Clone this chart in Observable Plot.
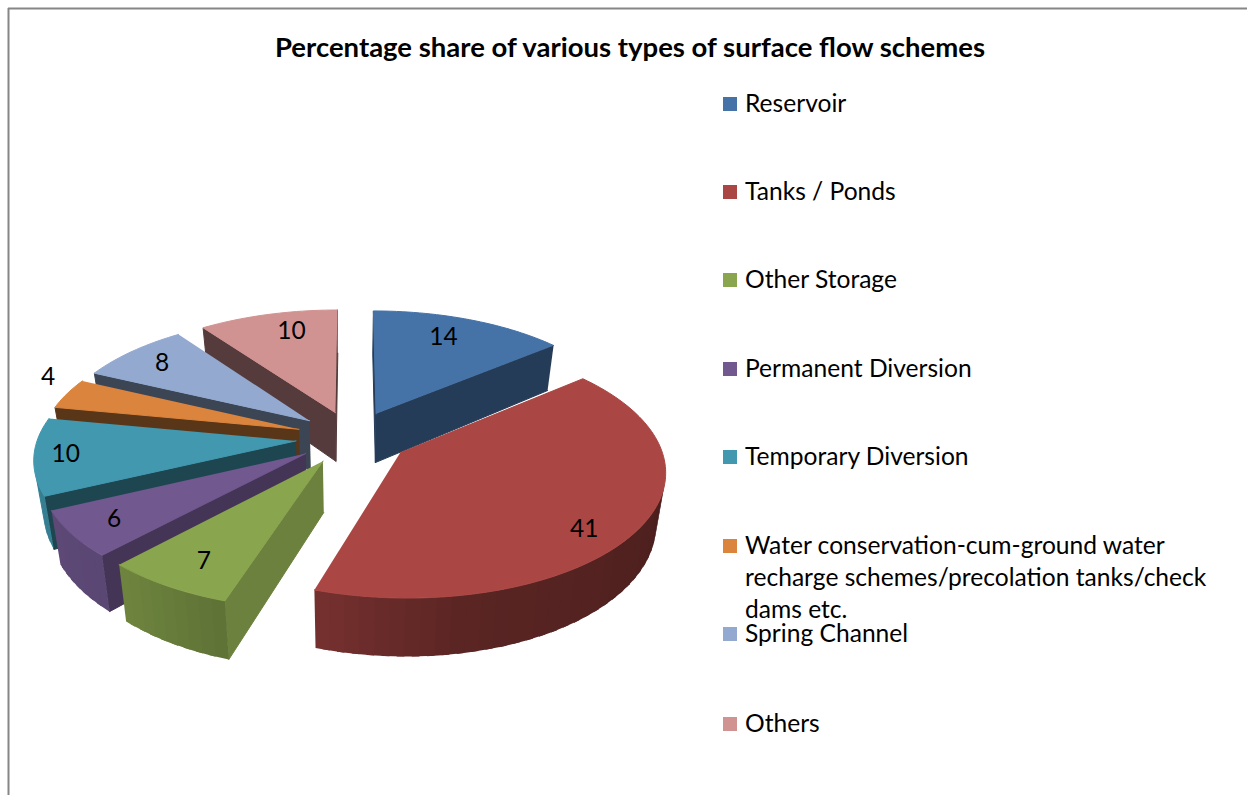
<!DOCTYPE html>
<html><head><meta charset="utf-8">
<script src="https://cdn.jsdelivr.net/npm/d3@7"></script>
<script src="https://cdn.jsdelivr.net/npm/@observablehq/plot@0.6"></script>
<style>
html,body{margin:0;padding:0;background:#fff;overflow:hidden}
#wrap{position:relative;width:1247px;height:795px;font-family:Lato,sans-serif;color:#000}
#title{position:absolute;left:0;top:29px;width:1260px;text-align:center;font-weight:700;font-size:27.5px;line-height:36px}
.leg{position:absolute;left:745px;width:476px;font-size:24.6px;line-height:32px}
.sw{position:absolute;left:-22px;top:10px;width:14px;height:14px}
svg{position:absolute;left:0;top:0}
</style></head><body><div id="wrap"><div id="title"></div></div>
<script>
const chartTitle = "Percentage share of various types of surface flow schemes";
const categories = ["Reservoir","Tanks / Ponds","Other Storage","Permanent Diversion","Temporary Diversion","Water conservation-cum-ground water recharge schemes/precolation tanks/check dams etc.","Spring Channel","Others"];
const shares = [14,41,7,6,10,4,8,10];
const colors = ["#4572a7","#aa4643","#89a54e","#71588f","#4198af","#db843d","#93a9cf","#d19392"];
const legendTops = [87,175,263,352,440,529,617,707];
const drawOrder = [0,7,6,5,4,3,2,1];

// view model of the tilted disc
const cx=352, cy=437, Rx=258, Ry=122, persp=.13, explode=.22, depth=50, taper=.97;
const outerShade = d3.scaleLinear([90,170,198,223,260,360],[.42,.53,.69,.8,.85,.85]).clamp(true);
const sideShade = d3.scaleLinear([50,198,223,245,281,360],[.53,.78,.6,.46,.41,.4]).clamp(true);
const labelR = [.78,.85,.81,.83,.88,1.15,.82,.8];
const labelF = [.45,.55,.45,.5,.5,.9,.5,.6];

const arcs = d3.pie().sort(null).value(d=>d).startAngle(0).endAngle(2*Math.PI)(shares);
const deg = r => r*180/Math.PI;
function project(i,a,r,drop){
  const m=(arcs[i].startAngle+arcs[i].endAngle)/2;
  const u=explode*Math.sin(m)+r*Math.sin(a), v=explode*Math.cos(m)+r*Math.cos(a);
  const s=1/(1+persp*v);
  let x=cx+Rx*u*s, y=cy-Ry*v*s;
  if(drop){ x=cx+(x-cx)*taper; y+=depth*s; }
  return [x,y];
}
const shade=(c,k)=>{const q=d3.rgb(c);return d3.rgb(q.r*k,q.g*k,q.b*k).formatHex();};
const area=p=>d3.sum(p,(q,i)=>{const n=p[(i+1)%p.length];return q[0]*n[1]-n[0]*q[1];});
const polys=[]; let id=0;
function add(pts,fill,wall,sw){
  if(wall && area(pts)>=0) return;
  id++; for(const q of pts) polys.push({id,x:q[0],y:q[1],fill,sw});
}
for(const i of drawOrder){
  const A=arcs[i], c=colors[i], a0=A.startAngle, a1=A.endAngle;
  add([project(i,a0,0,0),project(i,a0,1,0),project(i,a0,1,1),project(i,a0,0,1)],shade(c,sideShade(deg(a0))),true,1);
  add([project(i,a1,1,0),project(i,a1,0,0),project(i,a1,0,1),project(i,a1,1,1)],shade(c,sideShade(deg(a1))),true,1);
  const steps=Math.max(2,Math.ceil((a1-a0)/(Math.PI/60)));
  for(let k=0;k<steps;k++){
    const b0=a0+(a1-a0)*k/steps, b1=Math.min(a1,a0+(a1-a0)*(k+1)/steps+Math.PI/120);
    add([project(i,b0,1,0),project(i,b1,1,0),project(i,b1,1,1),project(i,b0,1,1)],shade(c,outerShade(deg((b0+b1)/2))),true,0);
  }
  const top=[project(i,a0,0,0)];
  for(let k=0;k<=steps*2;k++) top.push(project(i,a0+(a1-a0)*k/(steps*2),1,0));
  add(top,c,false,1);
}
const labels=shares.map((v,i)=>{
  const p=project(i,arcs[i].startAngle+(arcs[i].endAngle-arcs[i].startAngle)*labelF[i],labelR[i],0);
  return {x:p[0],y:p[1],t:String(v)};
});
const chart=Plot.plot({
  width:1247,height:795,margin:0,
  x:{domain:[0,1247],range:[0,1247],axis:null},
  y:{domain:[0,795],range:[0,795],axis:null},
  color:{type:"identity"},
  marks:[
    Plot.ruleX([8],{y1:8,y2:795,stroke:"#868686",strokeWidth:2}),
    Plot.ruleY([8],{x1:8,x2:1247,stroke:"#868686",strokeWidth:2}),
    Plot.line(polys,{x:"x",y:"y",z:"id",fill:"fill",stroke:"fill",strokeWidth:"sw",curve:"linear"}),
    Plot.text(labels,{x:"x",y:"y",text:"t",fontSize:24.5,fontFamily:"Lato,sans-serif",fill:"#000"})
  ]
});
const wrap=document.getElementById("wrap");
wrap.appendChild(chart);
document.getElementById("title").textContent=chartTitle;
categories.forEach((name,i)=>{
  const d=document.createElement("div");d.className="leg";d.style.top=legendTops[i]+"px";d.textContent=name;
  const s=document.createElement("span");s.className="sw";s.style.background=colors[i];d.appendChild(s);
  wrap.appendChild(d);
});
</script></body></html>
